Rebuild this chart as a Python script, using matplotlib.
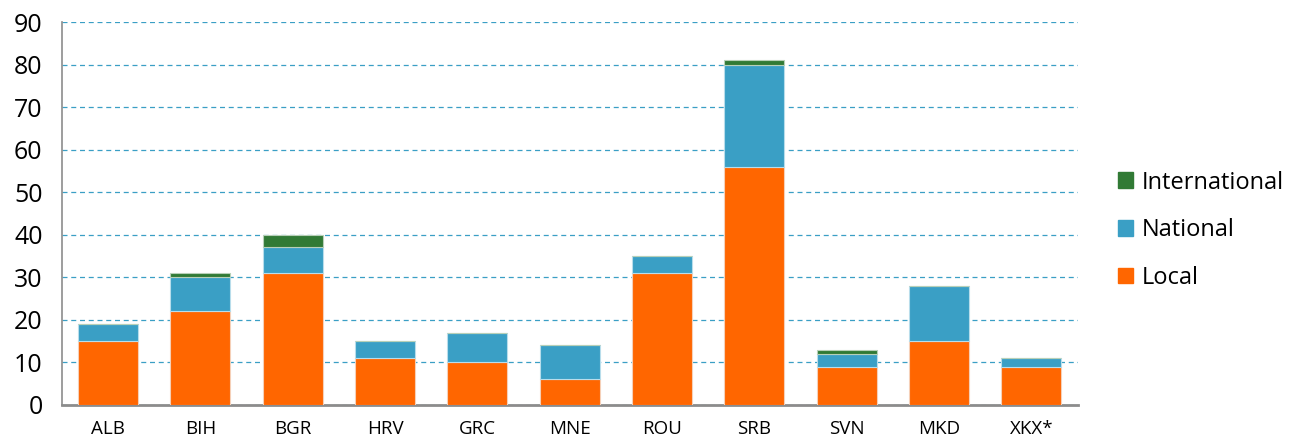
import matplotlib
matplotlib.use("Agg")
import matplotlib.pyplot as plt
import numpy as np
from matplotlib.patches import Patch

categories = ["ALB", "BIH", "BGR", "HRV", "GRC", "MNE", "ROU", "SRB", "SVN", "MKD", "XKX*"]
local = [15, 22, 31, 11, 10, 6, 31, 56, 9, 15, 9]
national = [4, 8, 6, 4, 7, 8, 4, 24, 3, 13, 2]
international = [0, 1, 3, 0, 0, 0, 0, 1, 1, 0, 0]
yticks = [0, 10, 20, 30, 40, 50, 60, 70, 80, 90]

c_local = "#FF6600"
c_nat = "#3A9FC5"
c_int = "#317A35"

plt.rcParams['font.family'] = ['Open Sans', 'DejaVu Sans']

fig = plt.figure(figsize=(12.92, 4.41), dpi=100)
ax = fig.add_axes([0.048, 0.082, 0.786, 0.868])

x = np.arange(len(categories))
w = 0.65
loc = np.array(local, float)
nat = np.array(national, float)
intl = np.array(international, float)
ax.bar(x, loc, w, color=c_local, edgecolor="#F5D0B8", linewidth=0.8, zorder=3)
ax.bar(x, nat, w, bottom=loc, color=c_nat, edgecolor="#B8DDEB", linewidth=0.8, zorder=3)
ax.bar(x, intl, w, bottom=loc + nat, color=c_int, edgecolor="#B8D0B8", linewidth=0.8, zorder=3)

ax.set_xlim(-0.5, len(categories) - 0.5)
ax.set_ylim(0, 90)
ax.set_yticks(yticks)
ax.set_yticklabels([str(v) for v in yticks], fontsize=18)
ax.set_xticks(x)
ax.set_xticklabels(categories, fontsize=13.5)
ax.tick_params(axis='both', length=0)
ax.tick_params(axis='x', pad=11)
ax.tick_params(axis='y', pad=14)
ax.yaxis.grid(True, color="#3A9FC5", linestyle=(0, (4, 3)), linewidth=0.9, zorder=0)
ax.set_axisbelow(True)
for s in ["top", "right"]:
    ax.spines[s].set_visible(False)
ax.spines["left"].set_color("#8C8C8C")
ax.spines["left"].set_linewidth(1.2)
ax.spines["bottom"].set_color("#8C8C8C")
ax.spines["bottom"].set_linewidth(2)

handles = [Patch(color=c_int, label="International"),
           Patch(color=c_nat, label="National"),
           Patch(color=c_local, label="Local")]
fig.legend(handles=handles, loc="center left", bbox_to_anchor=(0.856, 0.478),
           frameon=False, fontsize=17, handlelength=0.65, handleheight=0.65,
           handletextpad=0.35, labelspacing=1.0, borderpad=0)

fig.savefig("out.png", dpi=100)
